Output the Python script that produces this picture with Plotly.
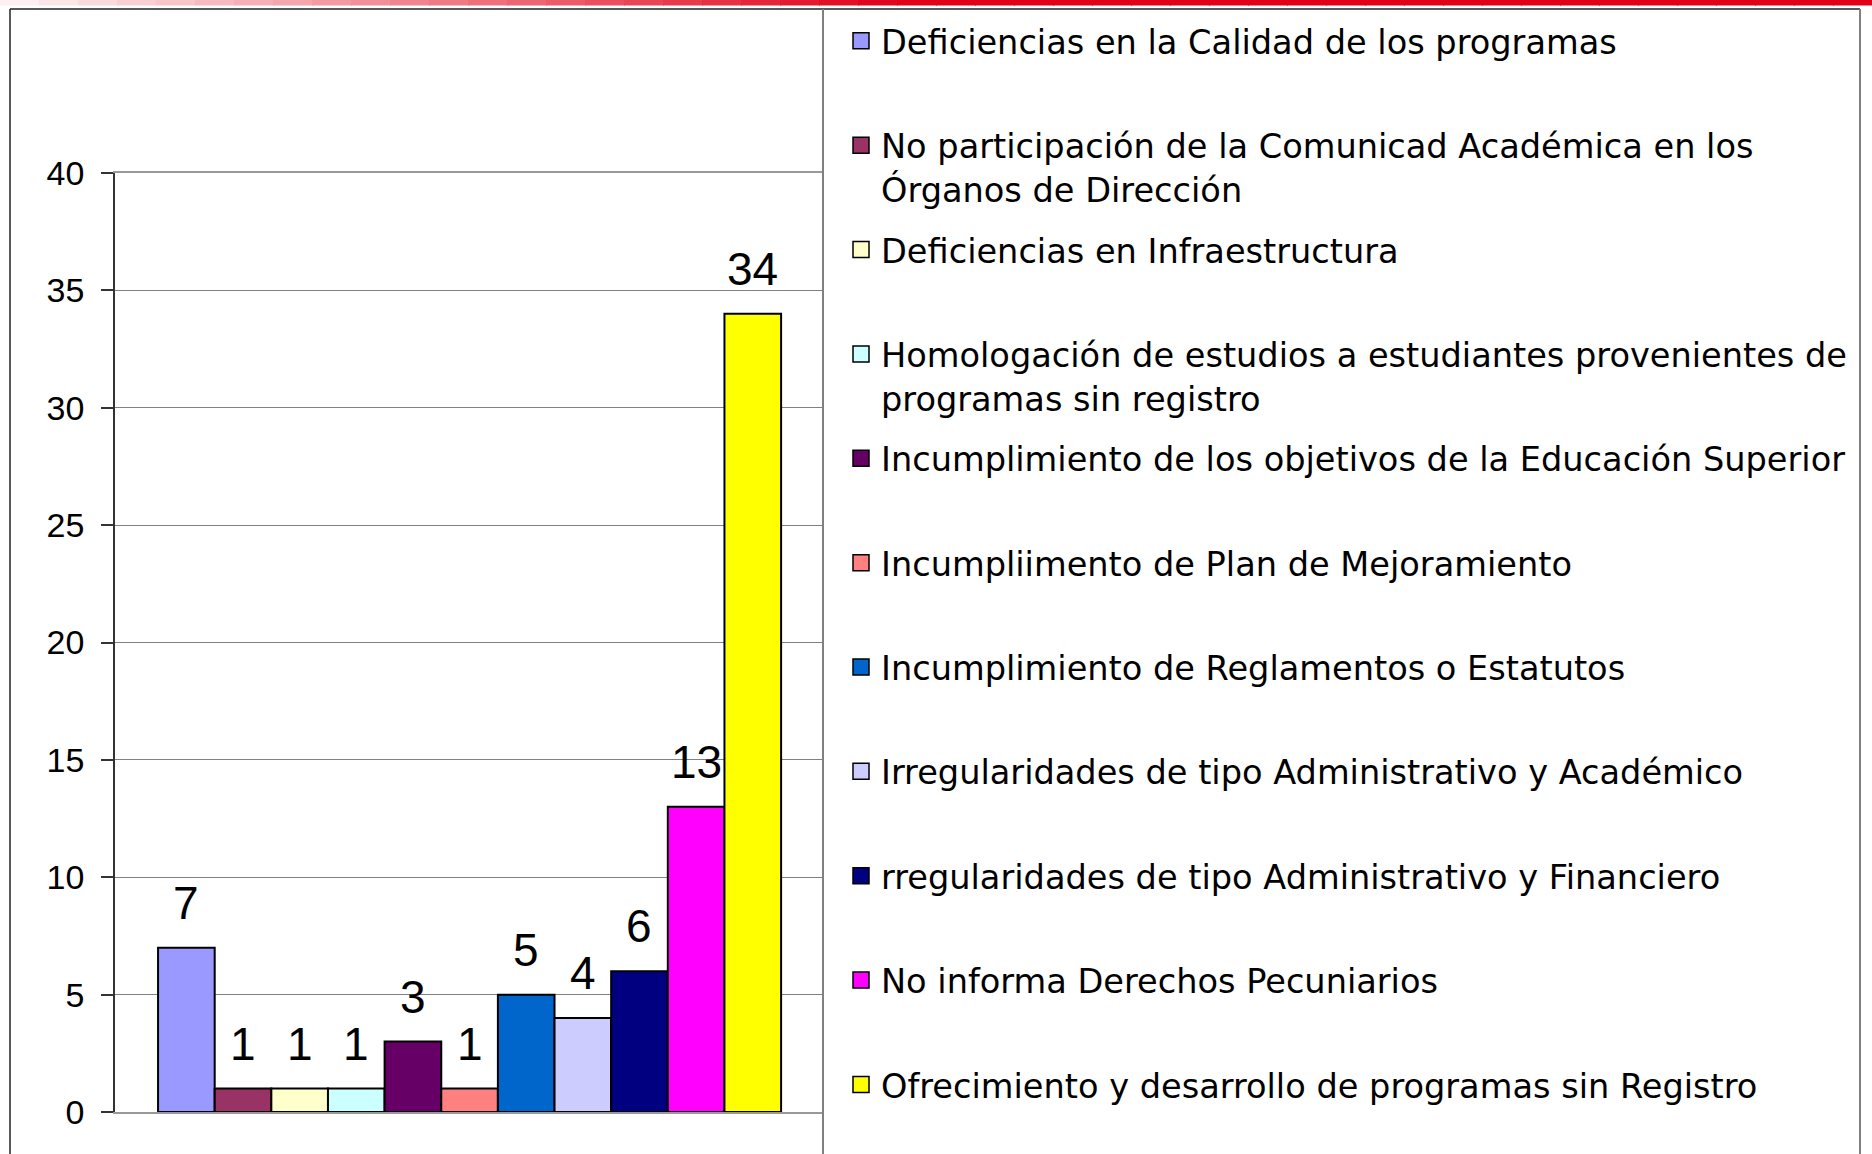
import plotly.graph_objects as go

# ---------------- data ----------------
categories = [
    "Deficiencias en la Calidad de los programas",
    "No participación de la Comunicad Académica en los Órganos de Dirección",
    "Deficiencias en Infraestructura",
    "Homologación de estudios a estudiantes provenientes de programas sin registro",
    "Incumplimiento de los objetivos de la Educación Superior",
    "Incumpliimento de Plan de Mejoramiento",
    "Incumplimiento de Reglamentos o Estatutos",
    "Irregularidades de tipo Administrativo y Académico",
    "rregularidades de tipo Administrativo y Financiero",
    "No informa Derechos Pecuniarios",
    "Ofrecimiento y desarrollo de programas sin Registro",
]
legend_labels = [
    "Deficiencias en la Calidad de los programas<br> ",
    "No participación de la Comunicad Académica en los<br>Órganos de Dirección",
    "Deficiencias en Infraestructura<br> ",
    "Homologación de estudios a estudiantes provenientes de<br>programas sin registro",
    "Incumplimiento de los objetivos de la Educación Superior<br> ",
    "Incumpliimento de Plan de Mejoramiento<br> ",
    "Incumplimiento de Reglamentos o Estatutos<br> ",
    "Irregularidades de tipo Administrativo y Académico<br> ",
    "rregularidades de tipo Administrativo y Financiero<br> ",
    "No informa Derechos Pecuniarios<br> ",
    "Ofrecimiento y desarrollo de programas sin Registro<br> ",
]
values = [7, 1, 1, 1, 3, 1, 5, 4, 6, 13, 34]
colors = ["#9999FF", "#993366", "#FFFFCC", "#CCFFFF", "#660066", "#FF8080",
          "#0066CC", "#CCCCFF", "#000080", "#FF00FF", "#FFFF00"]
y_ticks = [0, 5, 10, 15, 20, 25, 30, 35, 40]

FONT = "DejaVu Sans, Liberation Sans, Arial, sans-serif"
NUMFONT = "Liberation Sans, Arial, sans-serif"
W, H = 1872, 1154
L, R, T, B = 115, 823, 173, 1112  # plot area in px


def px(xp):
    return (xp - L) / (R - L)


def py(yp):
    return (B - yp) / (B - T)


fig = go.Figure()

for i, (cat, v, c) in enumerate(zip(categories, values, colors)):
    fig.add_trace(go.Bar(
        x=[i], y=[v], width=1, name=cat, legendgroup=cat, showlegend=False,
        marker=dict(color=c, line=dict(color="black", width=2)),
        hoverinfo="name+y",
    ))

for cat, lab, c in zip(categories, legend_labels, colors):
    fig.add_trace(go.Scatter(
        x=[None], y=[None], mode="markers", name=lab, legendgroup=cat,
        marker=dict(symbol="square", size=16, color=c,
                    line=dict(color="black", width=1.5)),
        hoverinfo="skip",
    ))

annotations = []
for i, v in enumerate(values):
    annotations.append(dict(
        x=i, y=v, xref="x", yref="y", text=str(v), showarrow=False,
        yanchor="bottom", yshift=17, font=dict(size=46, color="black", family=NUMFONT),
    ))

shapes = []
# top gradient band
N = 48
for k in range(N):
    x0 = k * W / N
    x1 = (k + 1) * W / N
    t = min(1.0, ((x0 + x1) / 2) / 900)
    r = int(255 + (224 - 255) * t)
    g = int(245 + (0 - 245) * t)
    b = int(245 + (24 - 245) * t)
    shapes.append(dict(type="rect", xref="paper", yref="paper",
                       x0=px(x0), x1=px(x1 + 1), y0=py(5.5), y1=py(0),
                       line=dict(width=0), fillcolor=f"rgb({r},{g},{b})", layer="above"))
# frame
shapes.append(dict(type="line", xref="paper", yref="paper", x0=px(10), x1=px(1860),
                   y0=py(9), y1=py(9), line=dict(color="#222222", width=1.5)))
shapes.append(dict(type="line", xref="paper", yref="paper", x0=px(10), x1=px(10),
                   y0=py(9), y1=py(1170), line=dict(color="#222222", width=1.5)))
shapes.append(dict(type="line", xref="paper", yref="paper", x0=px(1860), x1=px(1860),
                   y0=py(9), y1=py(1170), line=dict(color="#808080", width=2)))
shapes.append(dict(type="line", xref="paper", yref="paper", x0=1.0, x1=1.0,
                   y0=py(9), y1=py(1170), line=dict(color="#808080", width=2)))

fig.update_layout(
    width=W, height=H,
    margin=dict(l=L, r=W - R, t=T, b=H - B, pad=0, autoexpand=False),
    paper_bgcolor="white", plot_bgcolor="white",
    font=dict(family=FONT, color="black"),
    barmode="overlay",
    showlegend=True,
    legend=dict(
        x=px(841), xanchor="left", xref="paper",
        y=1 - 12.5 / H, yanchor="top", yref="container",
        font=dict(size=33.6, family=FONT, color="black"),
        tracegroupgap=14, valign="top", itemsizing="trace",
        bgcolor="rgba(0,0,0,0)", borderwidth=0,
    ),
    xaxis=dict(
        range=[-1.26, len(values) - 1 + 1.24], showticklabels=False, ticks="",
        showgrid=False, zeroline=False, showline=True, linecolor="#999999",
        linewidth=2, mirror=True, fixedrange=True,
    ),
    yaxis=dict(
        range=[0, 40], tickvals=y_ticks, ticktext=[str(v) for v in y_ticks],
        ticks="outside", ticklen=12, tickwidth=1.5, tickcolor="#333333",
        showline=True, linecolor="#333333", linewidth=1.5,
        showgrid=True, gridcolor="#808080", gridwidth=1, zeroline=False,
        tickfont=dict(size=34, family=NUMFONT, color="black"),
        ticklabelstandoff=10, fixedrange=True,
    ),
    annotations=annotations,
    shapes=shapes,
)

try:
    fig.update_layout(legend_maxheight=1150)
except Exception:
    pass

fig.write_html("out.html", config={"displayModeBar": False},
               post_script="document.body.style.margin='0px';")
